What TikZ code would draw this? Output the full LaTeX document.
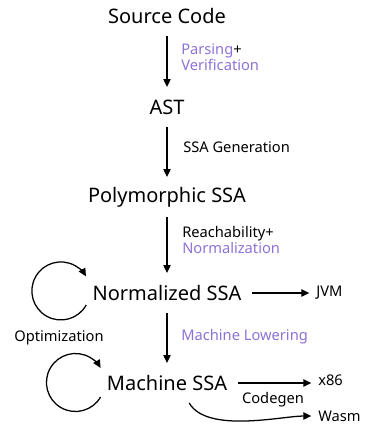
\documentclass[tikz,border=0pt]{standalone}
\usepackage{fontspec}
\setmainfont{Noto Sans}
\usetikzlibrary{positioning,arrows.meta}
\definecolor{passpurple}{RGB}{142,113,214}
\tikzset{
    stage/.style={
        font=\fontsize{15}{17}\selectfont,
        minimum height=30pt,
        inner sep=3.3pt,
        outer sep=0pt,
        align=center
    },
    pass label/.style={font=\fontsize{11}{12.2}\selectfont, text=black, anchor=west, inner sep=0pt, align=left},
    target/.style={font=\fontsize{11}{12.2}\selectfont, anchor=west, inner sep=0pt},
    flow/.style={-{Stealth[length=6pt,width=5.5pt,inset=0pt]}, line width=0.95pt},
    out flow/.style={flow, shorten <=5pt, shorten >=5pt}
}

\begin{document}
\begin{tikzpicture}[x=0.75pt,y=0.75pt]
\useasboundingbox (0,0) rectangle (368,-425);

% Compiler stages, top to bottom
\node[stage] (src)  at (167,-16)  {Source Code};
\node[stage] (ast)  at (167,-107) {AST};
\node[stage] (poly) at (167,-197) {Polymorphic SSA};
\node[stage] (norm) at (167,-293) {Normalized SSA};
\node[stage] (mach) at (167,-383) {Machine SSA};

% Backends
\node[target] (jvm)  at (316,-293) {JVM};
\node[target] (x86)  at (318,-380) {x86};
\node[target] (wasm) at (318,-416) {Wasm};

% Passes between stages
\draw[flow] (src) -- (ast);
\draw[flow] (ast) -- (poly);
\draw[flow] (poly) -- (norm);
\draw[flow] (norm) -- (mach);

\node[pass label] (parse) at (181,-57)
    {{\color{passpurple}Parsing}+\\\color{passpurple}Verification};
\node[pass label] (ssagen) at (183,-147) {SSA Generation};
\node[pass label] (reach) at (182,-240)
    {Reachability+\\\color{passpurple}Normalization};
\node[pass label, text=passpurple] (lower) at (181,-337) {Machine Lowering};

% Optimization loops
\draw[flow] (norm.west) ++(-2,-12) arc[start angle=-29, end angle=-330, radius=29];
\draw[flow] (mach.west) ++(-2,-14) arc[start angle=-30, end angle=-330, radius=29];
\node[pass label, anchor=center] (opt) at (59,-338) {Optimization};

% Code generation
\draw[out flow] (norm.east) -- (jvm.west);
\draw[out flow] (mach.east) -- (x86.west |- mach.east);
\draw[flow, shorten >=5pt] (mach.-42) to[out=-60, in=180, looseness=0.7] (wasm.west);
\node[pass label, anchor=center] (codegen) at (273,-400) {Codegen};

\end{tikzpicture}
\end{document}
